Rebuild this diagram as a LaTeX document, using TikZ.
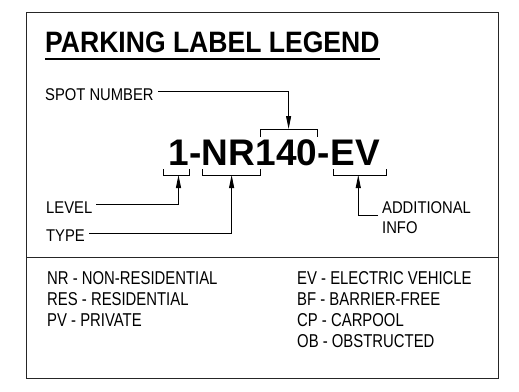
\documentclass[tikz,border=0pt]{standalone}
\usepackage{fontspec}
\usepackage{tikz}
\usetikzlibrary{arrows.meta,positioning}

\newfontfamily\labelfont{Liberation Sans}
\newfontfamily\titlefont[FakeStretch=0.9]{Liberation Sans}
\newfontfamily\narrowfont[FakeStretch=0.87]{Liberation Sans}
\newfontfamily\legendfont[FakeStretch=0.8]{Liberation Sans}

\begin{document}
\begin{tikzpicture}[
    x=1pt, y=-1pt,
    frame/.style={draw=black!85, line width=1pt},
    heading/.style={font=\titlefont\bfseries\fontsize{29.5}{32}\selectfont,
                    inner sep=0pt, anchor=base west},
    code/.style={font=\labelfont\bfseries\fontsize{37}{40}\selectfont,
                 inner sep=0pt, anchor=base west},
    tag/.style={font=\narrowfont\fontsize{17}{20}\selectfont,
                inner xsep=4pt, inner ysep=0pt, align=left},
    legend/.style={font=\legendfont\fontsize{18.6}{21}\selectfont,
                   inner sep=0pt, align=left, anchor=north west},
    bracket/.style={line width=0.9pt},
    arrow/.style={-{Triangle[length=13pt,width=5pt]}, line width=0.9pt}
]
\useasboundingbox (0,0) rectangle (519,391);
\draw[frame] (26,12) rectangle (498,378);
\draw[frame] (26,257) -- (498,257);

% title
\node[heading] (title) at (45,52) {PARKING LABEL LEGEND};
\draw[line width=2.3pt] ([yshift=-7pt]title.base west) -- ([yshift=-7pt]title.base east);

% the label itself
\node[code] (lvl) at (168,165) {1};
\node[code] (dasha) at (lvl.base east) {-};
\node[code] (typ) at (dasha.base east) {NR};
\node[code] (num) at (typ.base east) {140};
\node[code] (dashb) at (num.base east) {-};
\node[code] (extra) at (dashb.base east) {EV};

\draw[bracket] ([xshift=-5pt,yshift=-4pt]lvl.base west) -- ++(0,-6pt) -| ([yshift=-4pt]lvl.base east);
\draw[bracket] ([xshift=1pt,yshift=-4pt]typ.base west) -- ++(0,-6pt) -| ([xshift=5pt,yshift=-4pt]typ.base east);
\draw[bracket] ([xshift=5pt,yshift=28pt]num.base west) -- ++(0,8pt) -| ([yshift=28pt]num.base east);
\draw[bracket] ([xshift=3pt,yshift=-4pt]extra.base west) -- ++(0,-6pt) -| ([xshift=6pt,yshift=-4pt]extra.base east);

% callouts
\node[tag, anchor=base west] (spotlbl) at (41,100) {SPOT NUMBER};
\node[tag, anchor=base west] (levellbl) at (42,213) {LEVEL};
\node[tag, anchor=base west] (typelbl) at (42,241) {TYPE};
\node[tag, anchor=north west] (infolbl) at (378,201) {ADDITIONAL\\INFO};

\draw[arrow] ([yshift=3pt]spotlbl.east) -| ([xshift=2pt,yshift=36pt]num.base);
\draw[arrow] ([yshift=3pt]levellbl.east) -| ([yshift=-10pt]lvl.base);
\draw[arrow] ([yshift=2pt]typelbl.east) -| ([xshift=3pt,yshift=-10pt]typ.base);
\draw[arrow] ([yshift=2pt]infolbl.west) -| ([xshift=3pt,yshift=-10pt]extra.base);

% key
\node[legend] (typekey) at (47,271) {NR - NON-RESIDENTIAL\\RES - RESIDENTIAL\\PV - PRIVATE};
\node[legend] (extrakey) at (297,271) {EV - ELECTRIC VEHICLE\\BF - BARRIER-FREE\\CP - CARPOOL\\OB - OBSTRUCTED};
\end{tikzpicture}
\end{document}
